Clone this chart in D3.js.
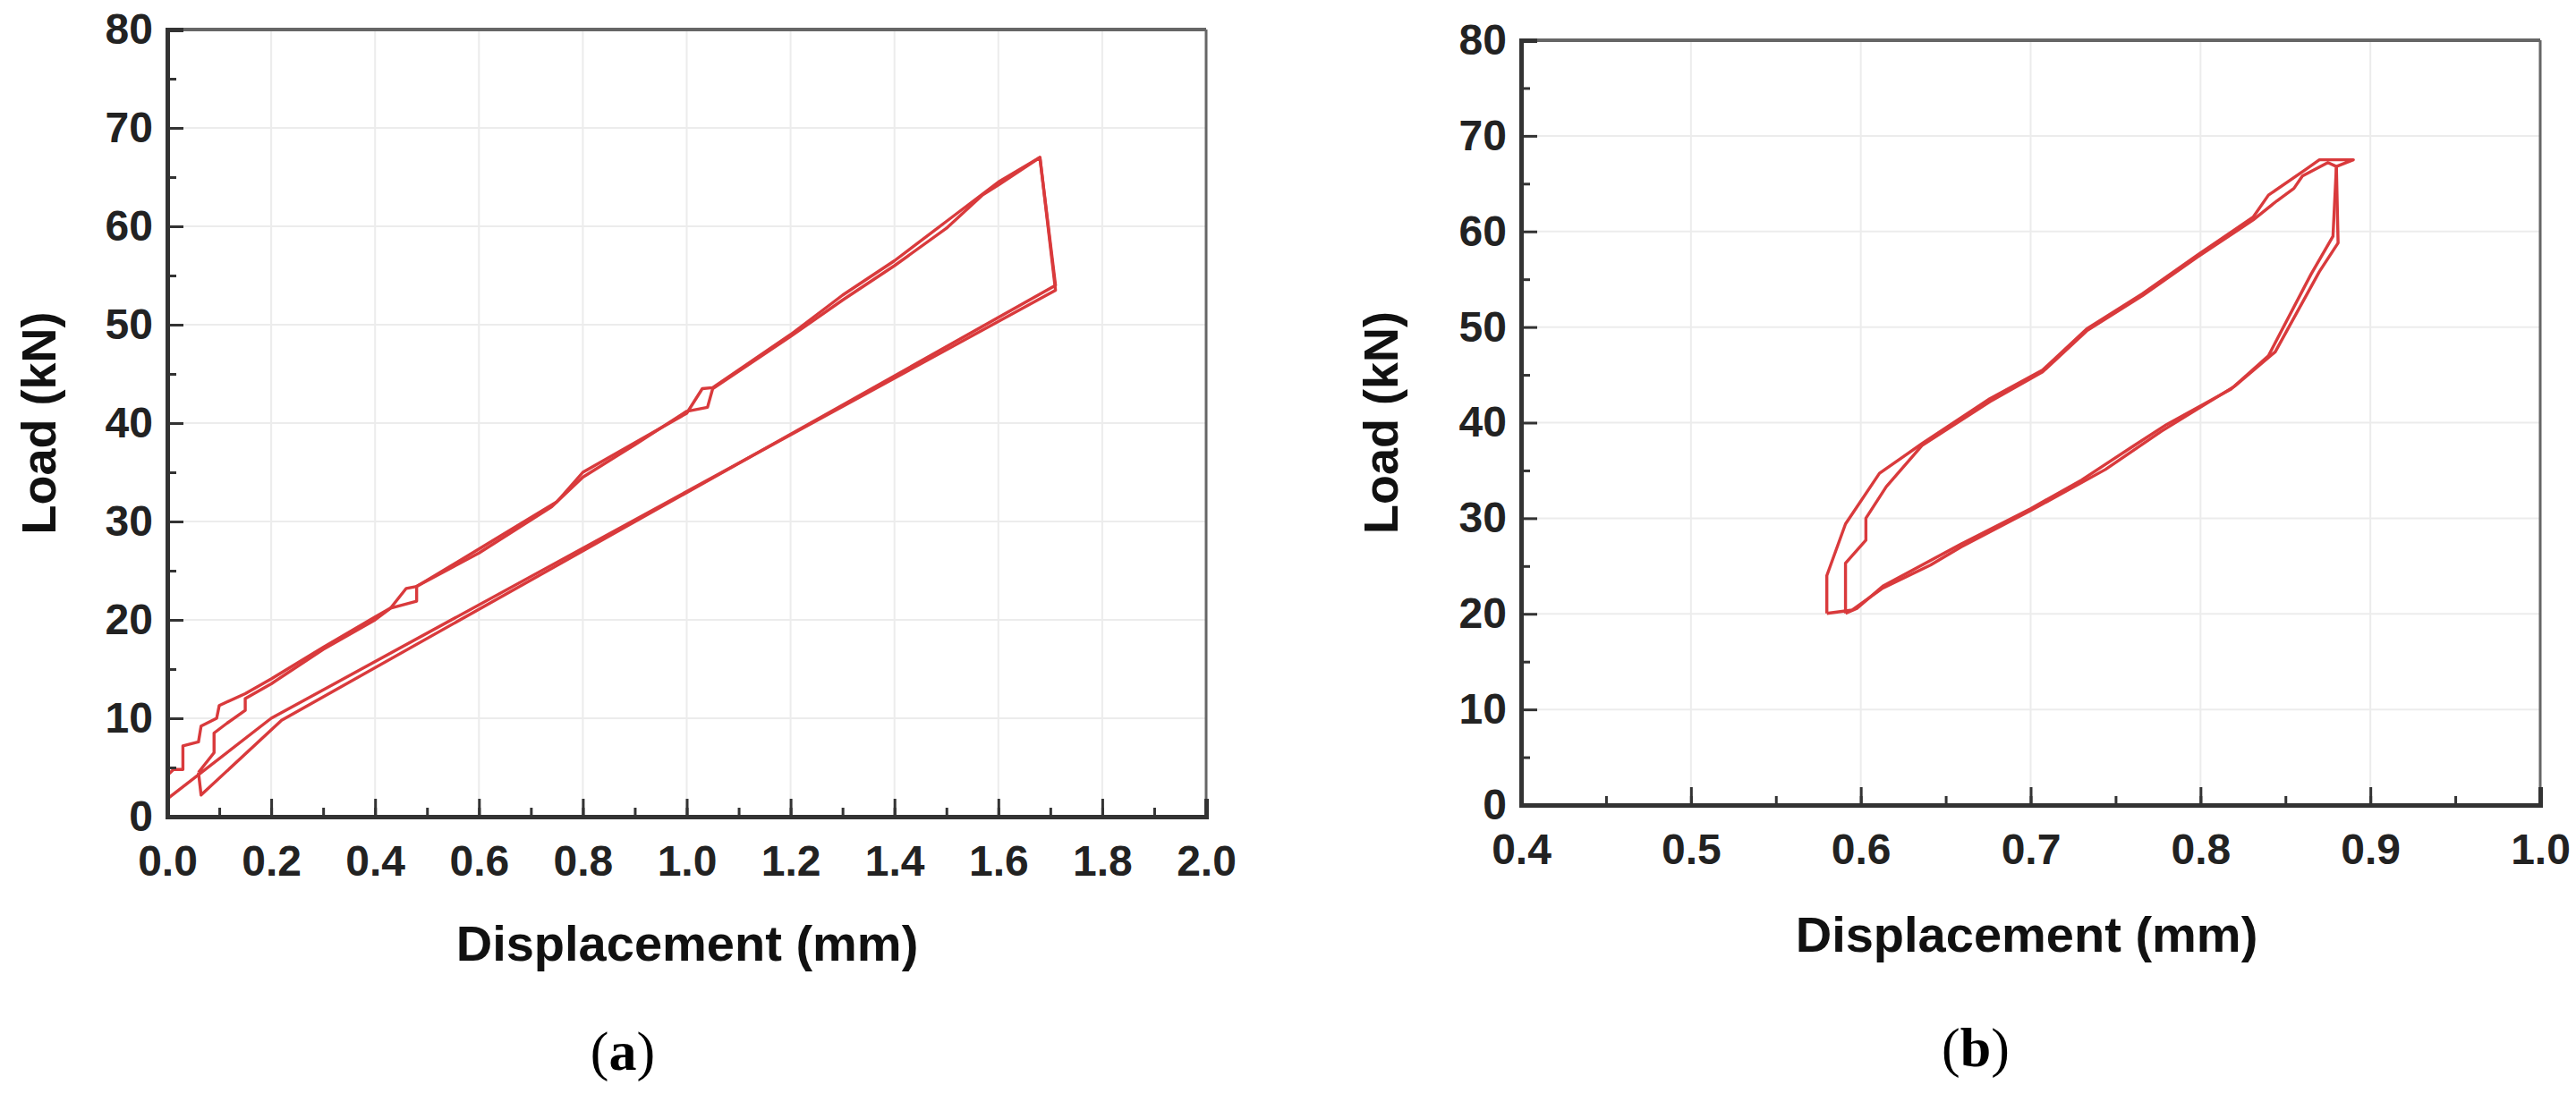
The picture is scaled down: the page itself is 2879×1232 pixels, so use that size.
<!DOCTYPE html>
<html>
<head>
<meta charset="utf-8">
<script src="https://cdn.jsdelivr.net/npm/d3@7"></script>
<style>
  body { margin: 0; background: #fff; }
  svg { display: block; }
</style>
</head>
<body>
<svg id="chart" width="2879" height="1232"></svg>
<script>
// panel (a): two load-unload cycles, [displacement mm, load kN]
var cycleA1 = [[0,4.2],[0.012,4.8],[0.03,4.8],[0.03,7.2],[0.06,7.6],[0.065,9.2],[0.095,10],[0.1,11.3],
  [0.15,12.5],[0.2,14],[0.3,17.2],[0.4,20.3],[0.43,21.2],[0.46,23.2],[0.48,23.4],[0.6,27.2],[0.75,32],
  [0.8,35],[0.9,38],[1.0,41],[1.03,43.5],[1.05,43.6],[1.2,49],[1.3,53],[1.4,56.5],[1.5,60.5],[1.6,64.5],
  [1.68,67],[1.71,54],[0.22,9.8],[0.065,2.2],[0.06,4.5]];
var cycleA2 = [[0.06,4.5],[0.09,6.5],[0.09,8.5],[0.115,9.5],[0.15,10.8],[0.15,12],[0.2,13.5],[0.3,17],
  [0.4,20],[0.43,21.2],[0.48,21.9],[0.48,23.4],[0.6,26.8],[0.74,31.5],[0.8,34.5],[0.9,37.8],[1.0,41.2],
  [1.04,41.6],[1.05,43.5],[1.2,48.8],[1.3,52.5],[1.4,56],[1.5,59.8],[1.57,63.2],[1.6,64.2],[1.68,67],
  [1.71,53.5],[0.2,10],[0,1.8],[0,4.2]];
// panel (b)
var cycleB1 = [[0.58,20.05],[0.58,24],[0.591,29.4],[0.611,34.7],[0.636,37.8],[0.676,42.5],[0.707,45.5],
  [0.733,49.8],[0.766,53.5],[0.798,57.5],[0.831,61.5],[0.84,63.8],[0.862,66.5],[0.87,67.5],[0.89,67.5],
  [0.88,66.8],[0.881,58.8],[0.87,55.8],[0.844,47.4],[0.82,43.8],[0.777,39.1],[0.744,35.1],[0.70,30.8],
  [0.659,27],[0.641,25.1],[0.613,22.7],[0.595,20.4],[0.58,20.05]];
var cycleB2 = [[0.591,20.05],[0.591,25.3],[0.603,27.7],[0.603,30],[0.615,33.3],[0.636,37.6],[0.676,42.2],
  [0.707,45.3],[0.733,49.6],[0.766,53.3],[0.798,57.3],[0.831,61.2],[0.845,63.2],[0.855,64.5],[0.86,65.8],
  [0.875,67.2],[0.88,66.8],[0.878,59.5],[0.865,55.5],[0.84,47],[0.818,43.5],[0.78,39.8],[0.76,37.5],
  [0.73,34],[0.70,31],[0.659,27.3],[0.613,22.9],[0.598,20.6],[0.591,20.05]];

var yTicks = [0, 10, 20, 30, 40, 50, 60, 70, 80];
var xTicksA = [0, 0.2, 0.4, 0.6, 0.8, 1.0, 1.2, 1.4, 1.6, 1.8, 2.0];
var xTicksB = [0.4, 0.5, 0.6, 0.7, 0.8, 0.9, 1.0];

var panels = [
  {cycles: [cycleA1, cycleA2], xDomain: [0, 2], xTicks: xTicksA, minorX: 0.1,
   left: 187, right: 1348, top: 33, bottom: 913, ylabelX: 62, xlabelX: 768, xlabelY: 1074,
   caption: "a", capX: 696, capY: 1196},
  {cycles: [cycleB1, cycleB2], xDomain: [0.4, 1.0], xTicks: xTicksB, minorX: 0.05,
   left: 1700, right: 2839, top: 45, bottom: 900, ylabelX: 1562, xlabelX: 2265, xlabelY: 1064,
   caption: "b", capX: 2208, capY: 1192}
];

var svg = d3.select("#chart");
var font = "'Liberation Sans', Arial, sans-serif";

panels.forEach(function (p) {
  var x = d3.scaleLinear().domain(p.xDomain).range([p.left, p.right]);
  var y = d3.scaleLinear().domain([0, 80]).range([p.bottom, p.top]);
  var g = svg.append("g");

  // grid
  g.selectAll(".gx").data(p.xTicks.slice(1, -1)).enter().append("line")
    .attr("x1", d => x(d)).attr("x2", d => x(d)).attr("y1", p.top).attr("y2", p.bottom)
    .attr("stroke", "#ececec").attr("stroke-width", 2);
  g.selectAll(".gy").data(yTicks.slice(1, -1)).enter().append("line")
    .attr("y1", d => y(d)).attr("y2", d => y(d)).attr("x1", p.left).attr("x2", p.right)
    .attr("stroke", "#ececec").attr("stroke-width", 2);

  // curves
  var line = d3.line().x(d => x(d[0])).y(d => y(d[1]));
  p.cycles.forEach(function (c) {
    g.append("path").attr("d", line(c)).attr("fill", "none")
      .attr("stroke", "#d93a3c").attr("stroke-width", 3.4).attr("stroke-linejoin", "round");
  });

  // frame
  g.append("line").attr("x1", p.left).attr("x2", p.right).attr("y1", p.top).attr("y2", p.top)
    .attr("stroke", "#666").attr("stroke-width", 4);
  g.append("line").attr("x1", p.right).attr("x2", p.right).attr("y1", p.top).attr("y2", p.bottom)
    .attr("stroke", "#666").attr("stroke-width", 3);

  // axes with inward ticks
  var minorXs = d3.range(p.xDomain[0], p.xDomain[1] + 1e-9, p.minorX);
  var xAxis = d3.axisBottom(x).tickValues(minorXs).tickSize(-10).tickFormat("");
  g.append("g").attr("transform", "translate(0," + p.bottom + ")").call(xAxis)
    .call(s => s.select(".domain").remove())
    .selectAll("line").attr("stroke", "#333").attr("stroke-width", 3);
  var xMajor = d3.axisBottom(x).tickValues(p.xTicks).tickSize(-20).tickPadding(32).tickFormat(d3.format(".1f"));
  var xg = g.append("g").attr("transform", "translate(0," + p.bottom + ")").call(xMajor);
  xg.select(".domain").attr("stroke", "#333").attr("stroke-width", 5);
  xg.selectAll("line").attr("stroke", "#333").attr("stroke-width", 3);
  xg.selectAll("text").attr("font-family", font).attr("font-weight", "bold")
    .attr("font-size", 48).attr("fill", "#222");

  var yMinor = d3.axisLeft(y).tickValues(d3.range(5, 80, 10)).tickSize(-10).tickFormat("");
  g.append("g").attr("transform", "translate(" + p.left + ",0)").call(yMinor)
    .call(s => s.select(".domain").remove())
    .selectAll("line").attr("stroke", "#333").attr("stroke-width", 3);
  var yMajor = d3.axisLeft(y).tickValues(yTicks).tickSize(-18).tickPadding(16).tickFormat(d3.format("d"));
  var yg = g.append("g").attr("transform", "translate(" + p.left + ",0)").call(yMajor);
  yg.select(".domain").attr("stroke", "#333").attr("stroke-width", 5);
  yg.selectAll("line").attr("stroke", "#333").attr("stroke-width", 3);
  yg.selectAll("text").attr("font-family", font).attr("font-weight", "bold")
    .attr("font-size", 48).attr("fill", "#222");

  // titles
  g.append("text").attr("transform", "translate(" + p.ylabelX + "," + ((p.top + p.bottom) / 2) + ") rotate(-90)")
    .attr("text-anchor", "middle").attr("font-family", font).attr("font-weight", "bold")
    .attr("font-size", 54).attr("fill", "#111").text("Load (kN)");
  g.append("text").attr("x", p.xlabelX).attr("y", p.xlabelY).attr("text-anchor", "middle")
    .attr("font-family", font).attr("font-weight", "bold").attr("font-size", 56)
    .attr("fill", "#111").text("Displacement (mm)");
  var cap = g.append("text").attr("x", p.capX).attr("y", p.capY).attr("text-anchor", "middle")
    .attr("font-family", "'Liberation Serif', 'Times New Roman', serif").attr("font-size", 62).attr("fill", "#000");
  cap.append("tspan").text("(");
  cap.append("tspan").attr("font-weight", "bold").text(p.caption);
  cap.append("tspan").text(")");
});
</script>
</body>
</html>
